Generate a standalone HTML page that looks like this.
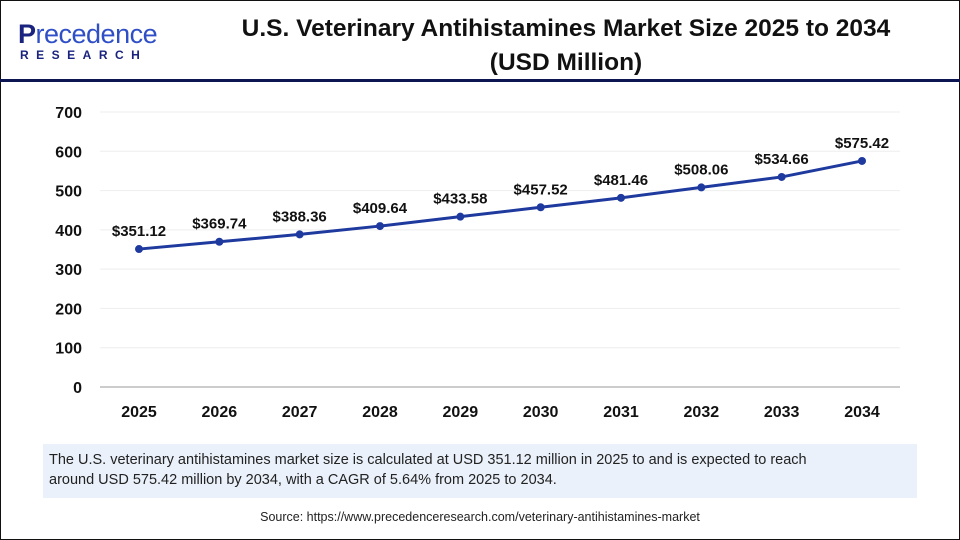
<!DOCTYPE html>
<html><head><meta charset="utf-8"><style>
body{margin:0;width:960px;height:540px;overflow:hidden;background:#fff;font-family:"Liberation Sans",Arial,sans-serif}
#frame{position:absolute;left:0;top:0;width:958px;height:538px;border:1px solid #111}
</style></head><body>
<div id="frame"></div>
<div style="position:absolute;left:18px;top:20px;width:140px;height:40px">
  <div style="font-size:27px;color:#1a237e;font-weight:bold;letter-spacing:-0.5px;line-height:28px">P<span style="color:#2f4fc7;font-weight:normal">recedence</span></div>
  <div style="font-size:12px;color:#1a237e;font-weight:bold;letter-spacing:7.5px;margin-left:2px">RESEARCH</div>
</div>
<div style="position:absolute;left:176px;width:780px;top:12px;text-align:center;font-size:24.5px;font-weight:bold;color:#111;line-height:34px">U.S. Veterinary Antihistamines Market Size 2025 to 2034<br>(USD Million)</div>
<div style="position:absolute;left:0;top:79px;width:960px;height:3px;background:#0d1650"></div>
<svg id="chart" width="960" height="540" style="position:absolute;left:0;top:0"></svg>
<div style="position:absolute;left:43px;top:444px;width:874px;height:54px;background:#eaf1fa;padding:0 6px;box-sizing:border-box;font-size:14.5px;color:#222;line-height:20px;padding-top:6px;white-space:nowrap">The U.S. veterinary antihistamines market size is calculated at USD 351.12 million in 2025 to and is expected to reach<br>around USD 575.42 million by 2034, with a CAGR of 5.64% from 2025 to 2034.</div>
<div style="position:absolute;left:0;width:960px;top:510px;text-align:center;font-size:12.5px;color:#222">Source: https://www.precedenceresearch.com/veterinary-antihistamines-market</div>
<script>
const categories=["2025","2026","2027","2028","2029","2030","2031","2032","2033","2034"];
const values=[351.12,369.74,388.36,409.64,433.58,457.52,481.46,508.06,534.66,575.42];
const valueLabels=["$351.12","$369.74","$388.36","$409.64","$433.58","$457.52","$481.46","$508.06","$534.66","$575.42"];
const yTicks=[0,100,200,300,400,500,600,700];
const svg=document.getElementById('chart');
const NS='http://www.w3.org/2000/svg';
const x=i=>139+i*(862-139)/(categories.length-1);
const y=v=>387-v*(387-112)/700;
function mk(t,a){const e=document.createElementNS(NS,t);for(const k in a)e.setAttribute(k,a[k]);svg.appendChild(e);return e;}
yTicks.forEach(t=>{
  const g=mk('line',{x1:100,x2:900,y1:y(t),y2:y(t),stroke:t===0?'#bbb':'#eee','stroke-width':t===0?1.5:1});
  
  
  const l=mk('text',{x:82,y:y(t)+6,'text-anchor':'end','font-size':16,'font-weight':'bold',fill:'#111'});
  l.textContent=t;
  
  
});
categories.forEach((c,i)=>{
  const l=mk('text',{x:x(i),y:417,'text-anchor':'middle','font-size':16,'font-weight':'bold',fill:'#111'});
  l.textContent=c;
  
  
});
const line=mk('polyline',{points:values.map((v,i)=>x(i)+','+y(v)).join(' '),fill:'none',stroke:'#1f3a9e','stroke-width':3});


values.forEach((v,i)=>{
  const p=mk('circle',{cx:x(i),cy:y(v),r:4,fill:'#1f3a9e'});
  
  
  const t=mk('text',{x:x(i),y:y(v)-13,'text-anchor':'middle','font-size':15,'font-weight':'bold',fill:'#111'});
  t.textContent=valueLabels[i];
  
  
});
</script>
</body></html>
